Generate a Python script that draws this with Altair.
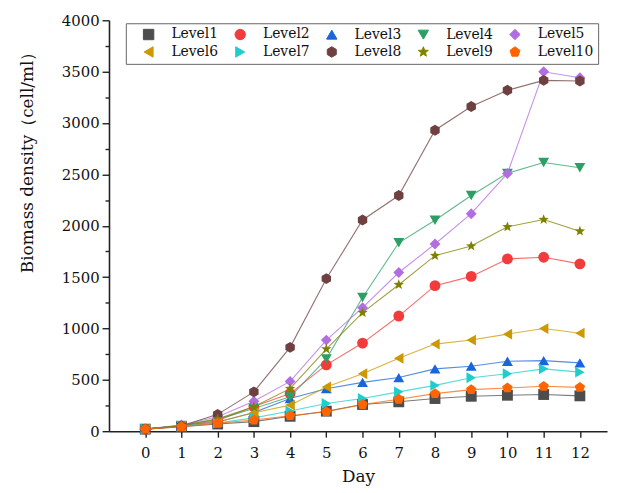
import altair as alt
import pandas as pd

days = list(range(13))
levels = ["Level1", "Level2", "Level3", "Level4", "Level5",
          "Level6", "Level7", "Level8", "Level9", "Level10"]

level1 = [20, 45, 70, 93, 145, 195, 260, 286, 318, 340, 350, 357, 344]
level2 = [20, 50, 105, 240, 366, 646, 858, 1121, 1417, 1507, 1677, 1693, 1629]
level3 = [20, 55, 90, 183, 318, 414, 475, 522, 607, 633, 681, 687, 665]
level4 = [20, 55, 115, 220, 334, 704, 1301, 1834, 2053, 2294, 2510, 2615, 2565]
level5 = [20, 60, 140, 292, 485, 887, 1202, 1545, 1822, 2117, 2509, 3499, 3441]
level6 = [20, 50, 90, 180, 254, 431, 559, 710, 848, 887, 945, 999, 954]
level7 = [20, 50, 80, 130, 196, 270, 318, 383, 446, 520, 559, 607, 575]
level8 = [20, 50, 164, 383, 816, 1485, 2056, 2294, 2930, 3161, 3319, 3415, 3409]
level9 = [20, 55, 120, 238, 414, 800, 1154, 1426, 1709, 1802, 1989, 2060, 1947]
level10 = [20, 45, 77, 109, 151, 190, 260, 311, 366, 405, 421, 437, 427]

series = [level1, level2, level3, level4, level5,
          level6, level7, level8, level9, level10]

colors = ["#4d4d4d", "#f23c3c", "#1a64dc", "#2ca064", "#b26ee0",
          "#cc9900", "#1ecdcd", "#6e4040", "#808000", "#ff6400"]

hexagon = "M0,-1 L0.866,-0.5 L0.866,0.5 L0,1 L-0.866,0.5 L-0.866,-0.5 Z"
star = ("M0,-1 L0.247,-0.340 L0.951,-0.309 L0.399,0.130 L0.588,0.809 "
        "L0,0.42 L-0.588,0.809 L-0.399,0.130 L-0.951,-0.309 L-0.247,-0.340 Z")
pentagon = "M0,-1 L0.951,-0.309 L0.588,0.809 L-0.588,0.809 L-0.951,-0.309 Z"
shapes = ["square", "circle", "triangle-up", "triangle-down", "diamond",
          "triangle-left", "triangle-right", hexagon, star, pentagon]

rows = []
for name, vals in zip(levels, series):
    for d, v in zip(days, vals):
        rows.append({"day": d, "value": v, "level": name})
df = pd.DataFrame(rows)

FONT = "DejaVu Serif"

legend = alt.Legend(
    title=" ", titleOrient="left", titleFontSize=2, titlePadding=12,
    orient="none", legendX=17, legendY=3, columns=5,
    direction="horizontal", labelFont=FONT, labelFontSize=14,
    labelColor="#111", symbolSize=110, strokeColor="#666",
    fillColor="white", padding=4, rowPadding=2, columnPadding=4.5,
    labelOffset=16, symbolStrokeWidth=1, cornerRadius=0,
    symbolOpacity=1, gridAlign="all",
)

color_scale = alt.Scale(domain=levels, range=colors)
shape_scale = alt.Scale(domain=levels, range=shapes)

x_enc = alt.X("day:Q", scale=alt.Scale(domain=[-1, 12.75], nice=False, zero=False),
              axis=alt.Axis(values=days, title="Day", tickSize=6, labelPadding=9,
                            titlePadding=8, format="d"))
y_enc = alt.Y("value:Q", scale=alt.Scale(domain=[0, 4000], nice=False),
              axis=alt.Axis(values=list(range(0, 4001, 250)),
                            labelExpr="datum.value % 500 === 0 ? datum.label : ''",
                            tickSize={"condition": {"test": "datum.value % 500 === 0", "value": 7}, "value": 4},
                            title="Biomass density（cell/ml）", labelPadding=3,
                            titlePadding=25, titleY=139, format="d"))

base = alt.Chart(df).encode(
    x=x_enc, y=y_enc,
    color=alt.Color("level:N", scale=color_scale, sort=levels, legend=legend),
    order=alt.Order("day:Q"),
)

lines = base.mark_line(strokeWidth=1.1, opacity=0.75).encode(detail="level:N")
points = base.mark_point(filled=True, size=120, opacity=1).encode(
    shape=alt.Shape("level:N", scale=shape_scale, sort=levels, legend=legend)
)

chart = alt.layer(lines, points).properties(
    width=503, height=415,
    autosize=alt.AutoSizeParams(type="none"),
    padding={"left": 102, "top": 10, "right": 5, "bottom": 60},
).configure_view(stroke=None).configure_axis(
    grid=False, domainColor="#222", domainWidth=1.6, tickColor="#222",
    tickWidth=1.4, labelFont=FONT, labelFontSize=15, labelColor="#111",
    titleFont=FONT, titleFontSize=17, titleFontWeight="normal", titleColor="#111",
)

chart.save("out.html", embed_options={"renderer": "svg", "actions": False})
